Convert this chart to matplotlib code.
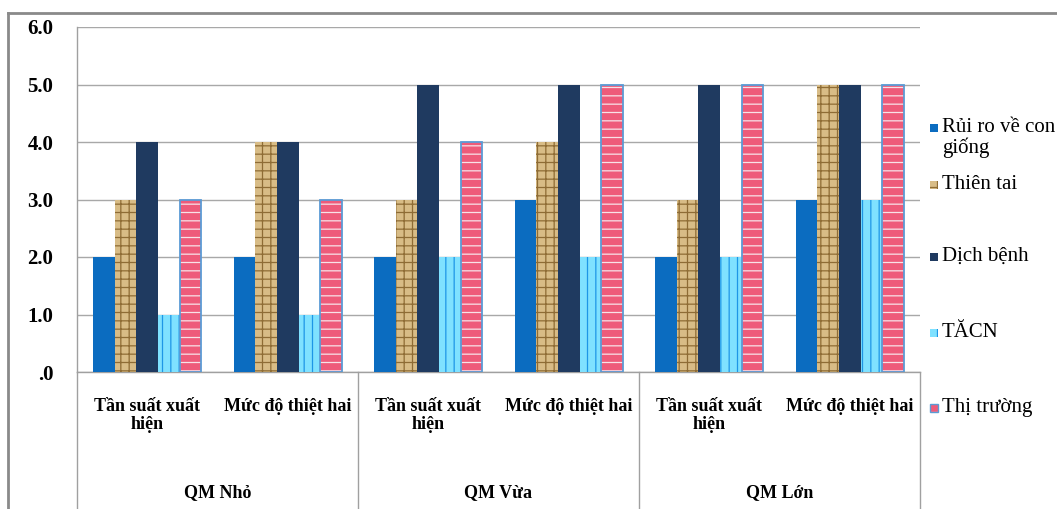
import matplotlib
matplotlib.use("Agg")
import matplotlib.pyplot as plt
from matplotlib.patches import Rectangle
from matplotlib.lines import Line2D
from matplotlib.ticker import FuncFormatter

# ---- data -------------------------------------------------------------
groups = ["QM Nhỏ", "QM Vừa", "QM Lớn"]
sub_labels = ["Tần suất xuất\nhiện", "Mức độ thiệt hai"]
series_names = ["Rủi ro về con\ngiống", "Thiên tai", "Dịch bệnh", "TĂCN", "Thị trường"]

rui_ro_con_giong = [2, 2, 2, 3, 2, 3]
thien_tai = [3, 4, 3, 4, 3, 5]
dich_benh = [4, 4, 5, 5, 5, 5]
tacn = [1, 1, 2, 2, 2, 3]
thi_truong = [3, 3, 4, 5, 5, 5]
series_values = [rui_ro_con_giong, thien_tai, dich_benh, tacn, thi_truong]

y_ticks = [0, 1, 2, 3, 4, 5, 6]

# ---- styles -----------------------------------------------------------
styles = [
    dict(face="#0B6CC0", hatch=None, hcolor=None, outline=None),
    dict(face="#D8BC86", hatch="++", hcolor="#8E6C35", outline=None),
    dict(face="#1F3A60", hatch=None, hcolor=None, outline=None),
    dict(face="#7FE1FF", hatch="||", hcolor="#1E96E6", outline=None),
    dict(face="#EE5B7A", hatch="--", hcolor="#F8E3E8", outline="#5B9BD5"),
]

plt.rcParams["hatch.linewidth"] = 0.9
serif = ["Liberation Serif", "DejaVu Serif"]

W, H = 1057, 509
fig = plt.figure(figsize=(W / 100, H / 100), dpi=100)
fig.patch.set_facecolor("white")

# chart area border (left and top edges)
fig.add_artist(Line2D([8 / W, 8 / W], [0, 1 - 13 / H], transform=fig.transFigure,
                      color="#8A8A8A", lw=2))
fig.add_artist(Line2D([8 / W, 1], [1 - 13 / H, 1 - 13 / H], transform=fig.transFigure,
                      color="#8A8A8A", lw=2))

left, right, bottom, top = 77, 920, 372, 27
ax = fig.add_axes([left / W, 1 - bottom / H, (right - left) / W, (bottom - top) / H])

n_cats = len(rui_ro_con_giong)
x = list(range(n_cats))
bw = 0.154
n_series = len(series_values)

for i, (vals, st) in enumerate(zip(series_values, styles)):
    pos = [xi + (i - (n_series - 1) / 2) * bw for xi in x]
    if st["hatch"]:
        ax.bar(pos, vals, width=bw, color=st["face"], edgecolor=st["hcolor"],
               hatch=st["hatch"], linewidth=0, zorder=3)
    else:
        ax.bar(pos, vals, width=bw, color=st["face"], linewidth=0, zorder=3)
    if st["outline"]:
        ax.bar(pos, vals, width=bw, fill=False, edgecolor=st["outline"],
               linewidth=1.3, zorder=4)

ax.set_xlim(-0.5, n_cats - 0.5)
ax.set_ylim(0, 6)
ax.set_yticks(y_ticks)
ax.yaxis.set_major_formatter(FuncFormatter(
    lambda v, p: ("%.1f" % v)[1:] if v == 0 else "%.1f" % v))
ax.grid(axis="y", color="#A8A8A8", lw=1, zorder=0)
ax.set_axisbelow(True)

for s in ["top", "right"]:
    ax.spines[s].set_visible(False)
ax.spines["left"].set_color("#A0A0A0")
ax.spines["bottom"].set_color("#A0A0A0")
ax.spines["left"].set_linewidth(1)
ax.spines["bottom"].set_linewidth(1)

ax.tick_params(axis="y", length=0, pad=17)
for lab in ax.get_yticklabels():
    lab.set_fontfamily(serif)
    lab.set_fontweight("bold")
    lab.set_fontsize(15)

ax.set_xticks(x)
ax.set_xticklabels(sub_labels * len(groups), fontfamily=serif, fontweight="bold",
                   fontsize=13, linespacing=1.05)
ax.tick_params(axis="x", length=0, pad=19)

# multi-level category separators and group labels
per_group = len(sub_labels)
for g in range(len(groups) + 1):
    xs = g * per_group - 0.5
    ax.plot([xs, xs], [0, -0.45], transform=ax.get_xaxis_transform(),
            color="#A0A0A0", lw=1, clip_on=False)
for g, name in enumerate(groups):
    xc = g * per_group + (per_group - 1) / 2
    ax.text(xc, -0.35, name, transform=ax.get_xaxis_transform(), ha="center",
            va="center", fontfamily=serif, fontweight="bold", fontsize=13)

# legend
leg_y = [128, 185, 257, 333, 408]
for name, st, yy in zip(series_names, styles, leg_y):
    sq = 8
    kw = dict(transform=fig.transFigure, linewidth=0)
    fig.add_artist(Rectangle((930 / W, 1 - (yy + sq / 2) / H), sq / W, sq / H,
                             facecolor=st["face"],
                             edgecolor=st["hcolor"] if st["hatch"] else st["face"],
                             hatch=st["hatch"], **kw))
    if st["outline"]:
        fig.add_artist(Rectangle((930 / W, 1 - (yy + sq / 2) / H), sq / W, sq / H,
                                 fill=False, edgecolor=st["outline"],
                                 transform=fig.transFigure, linewidth=1))
    fig.text(942 / W, 1 - (yy - 10) / H, name, ha="left", va="top",
             fontfamily=serif, fontsize=15, linespacing=1.0)

fig.savefig("out.png", dpi=100)
